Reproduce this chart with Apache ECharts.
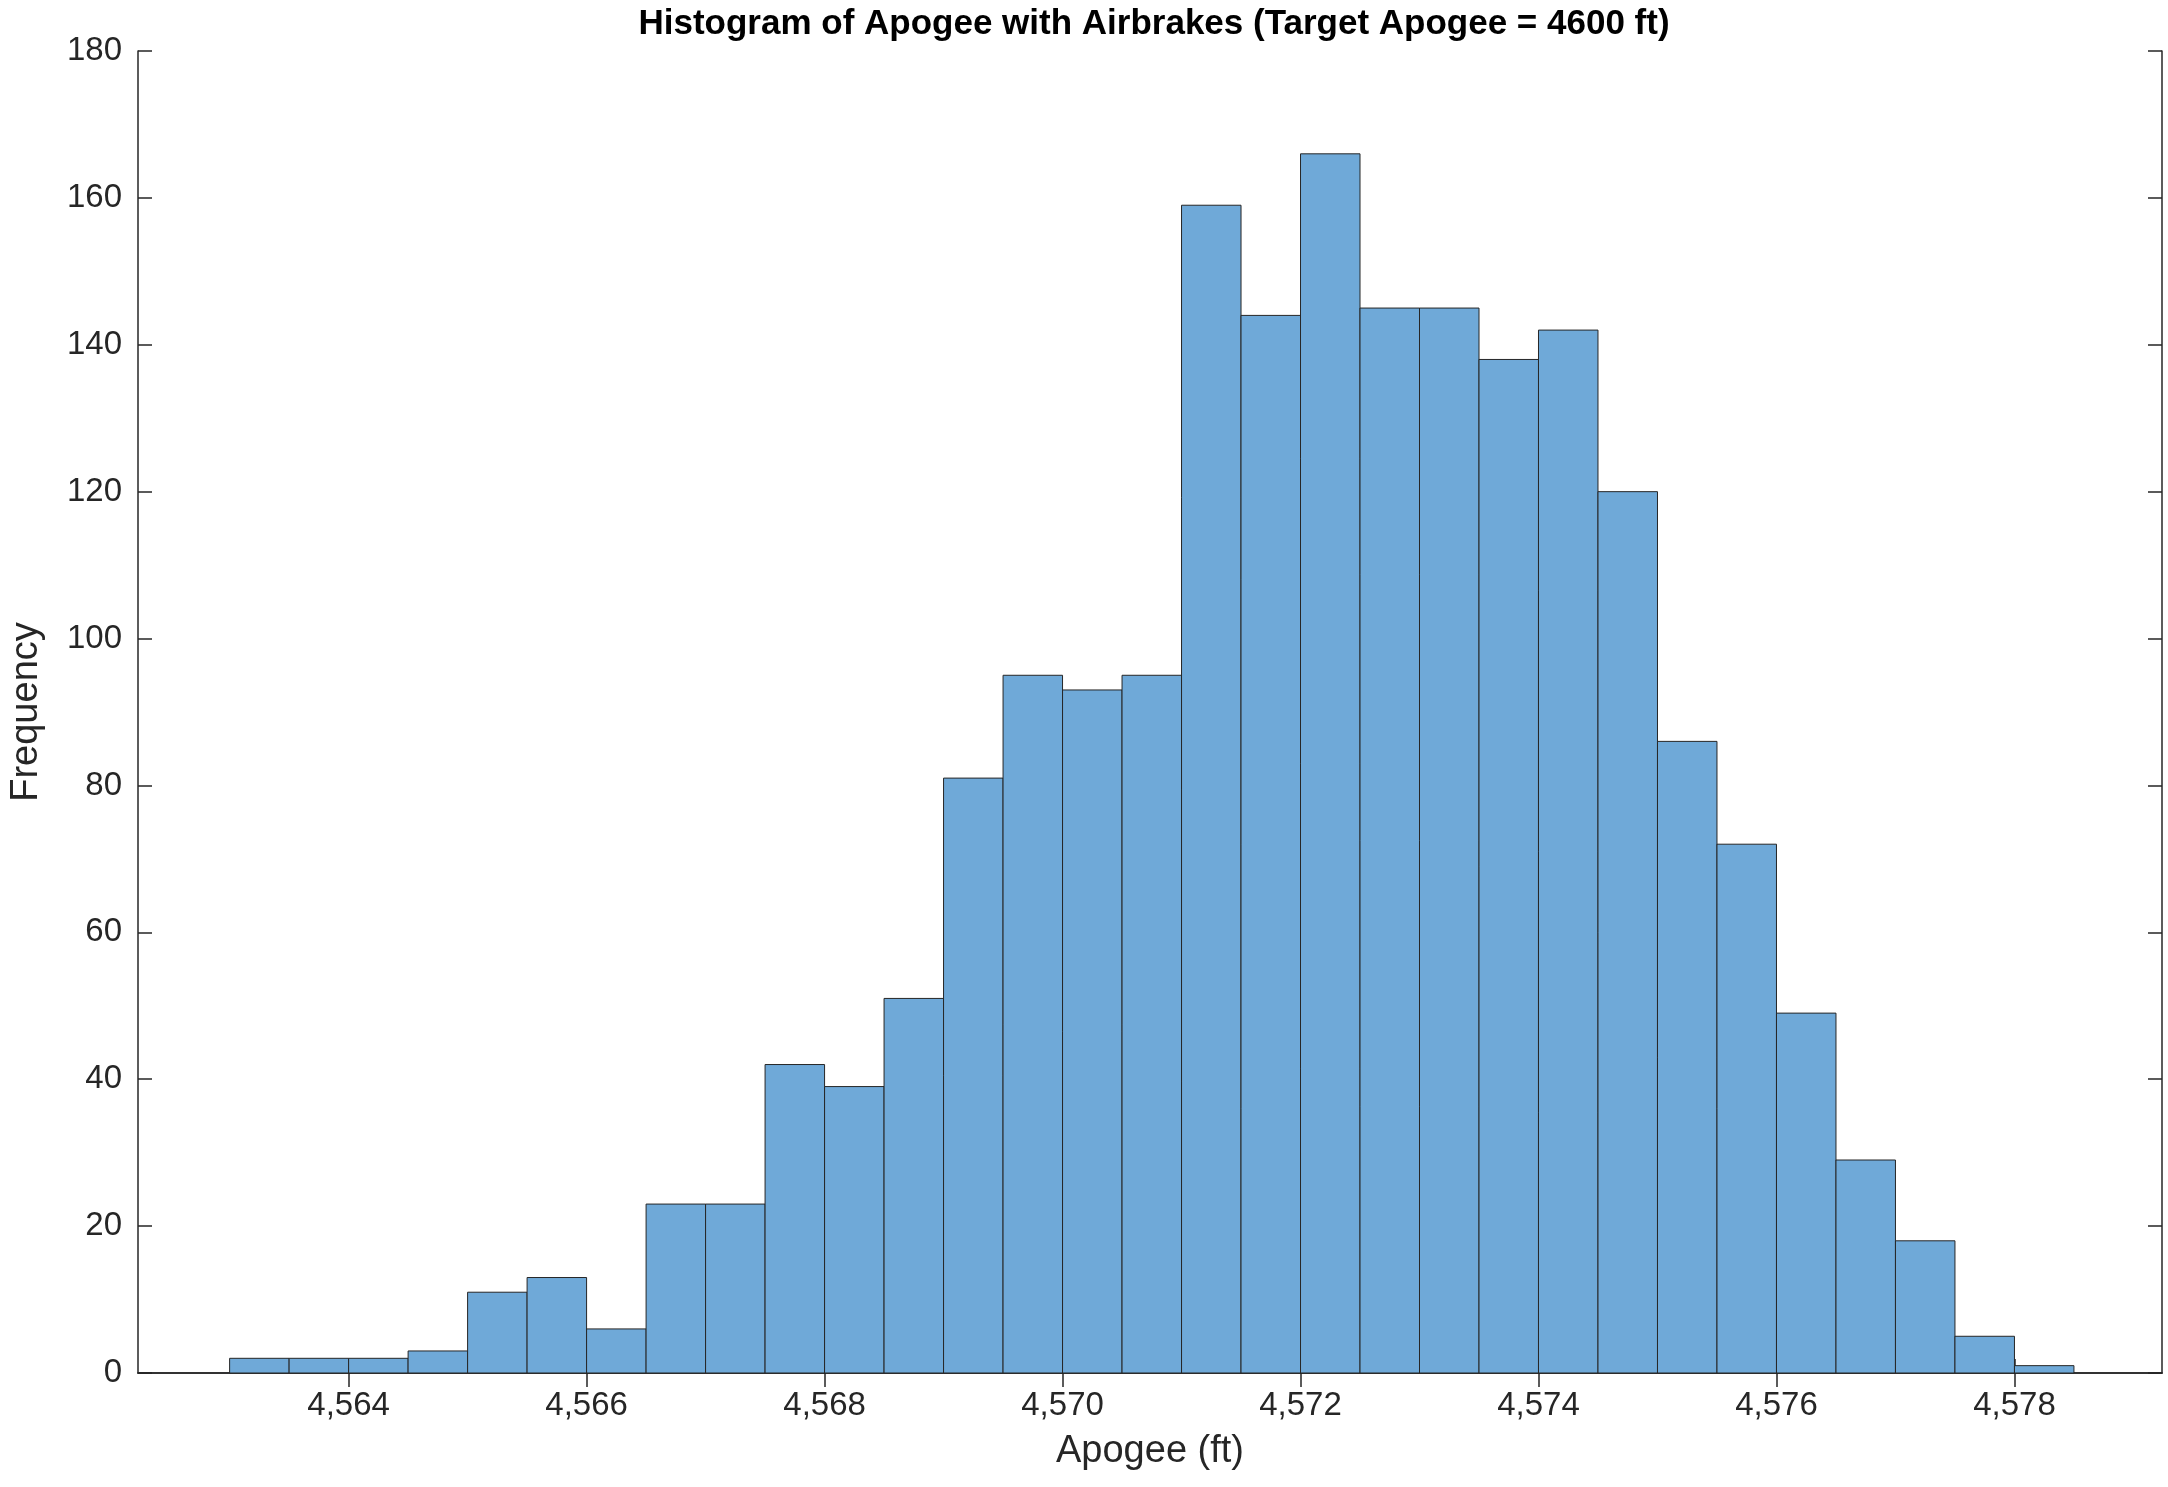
<!DOCTYPE html>
<html><head><meta charset="utf-8">
<script src="https://cdn.jsdelivr.net/npm/echarts@6/dist/echarts.min.js"></script>
<style>html,body{margin:0;background:#fff}#c{width:2168px;height:1487px}</style>
</head><body><div id="c"></div>
<script>
const binStart = 4563;
const binWidth = 0.5;
const counts = [2,2,2,3,11,13,6,23,23,42,39,51,81,95,93,95,159,144,166,145,145,138,142,120,86,72,49,29,18,5,1];
const xTicks = [4564,4566,4568,4570,4572,4574,4576,4578];
const yTicks = [0,20,40,60,80,100,120,140,160,180];
const data = counts.map((c,i)=>[binStart+i*binWidth, binStart+(i+1)*binWidth, c]);
const font = 'Liberation Sans, Arial, sans-serif';
const chart = echarts.init(document.getElementById('c'));
const xBase = {type:'value', min:4562.23, max:4579.24, splitLine:{show:false},
  axisLine:{show:true,lineStyle:{color:'#262626',width:1.5}},
  axisTick:{show:true,inside:true,length:14,customValues:xTicks,lineStyle:{color:'#262626',width:1.5}}};
const yBase = {type:'value', min:0, max:180, interval:20, splitLine:{show:false},
  axisLine:{show:true,lineStyle:{color:'#262626',width:1.5}},
  axisTick:{show:true,inside:true,length:14,lineStyle:{color:'#262626',width:1.5}}};
chart.setOption({
  animation:false,
  title:{text:'Histogram of Apogee with Airbrakes (Target Apogee = 4600 ft)', left:1149, top:2, textAlign:'center',
    textStyle:{fontFamily:font,fontWeight:'bold',fontSize:35,color:'#000'}},
  grid:{left:135, right:6, top:51, bottom:114},
  xAxis:[
    Object.assign({}, xBase, {position:'bottom', name:'Apogee (ft)', nameLocation:'middle', nameGap:60,
      nameTextStyle:{fontFamily:font,fontSize:38,color:'#262626'},
      axisLabel:{customValues:xTicks, fontFamily:font,fontSize:33,color:'#262626',margin:16}}),
    Object.assign({}, xBase, {position:'top', axisLabel:{show:false}})
  ],
  yAxis:[
    Object.assign({}, yBase, {position:'left', name:'Frequency', nameLocation:'middle', nameGap:92,
      nameTextStyle:{fontFamily:font,fontSize:38,color:'#262626'},
      axisLabel:{fontFamily:font,fontSize:33,color:'#262626',margin:16}}),
    Object.assign({}, yBase, {position:'right', axisLabel:{show:false}})
  ],
  series:[{
    type:'custom', data:data, encode:{x:[0,1],y:2},
    renderItem:function(params, api){
      const p0 = api.coord([api.value(0), 0]);
      const p1 = api.coord([api.value(1), api.value(2)]);
      return {type:'rect', shape:{x:p0[0], y:p1[1], width:p1[0]-p0[0], height:p0[1]-p1[1]},
        style:{fill:'#6fa9d8', stroke:'#262626', lineWidth:1}};
    }
  }]
});
</script></body></html>
